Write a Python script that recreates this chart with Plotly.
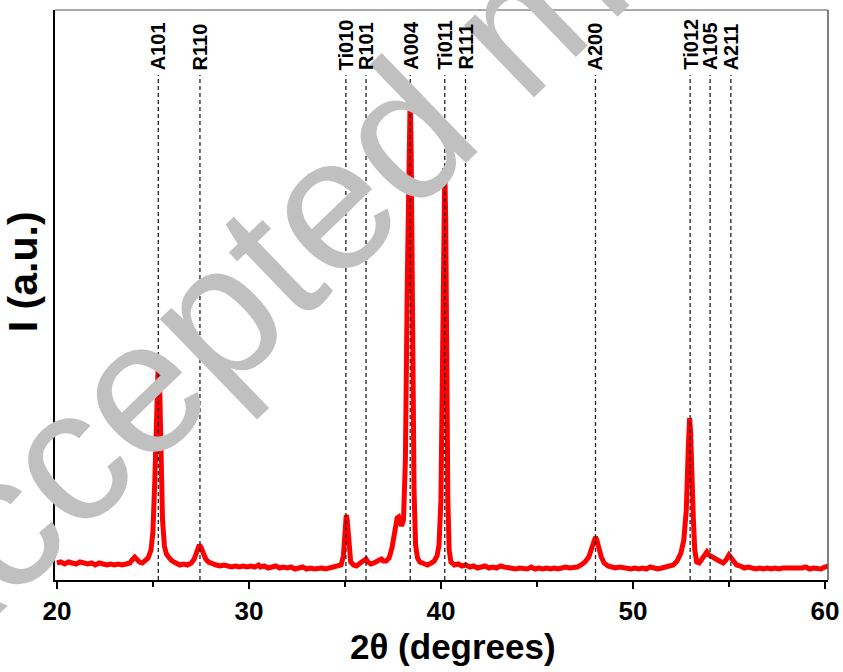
import plotly.graph_objects as go

# ---- data (2θ in degrees, intensity in a.u.) ----
two_theta = [
    20.0, 20.2, 20.4, 20.6, 20.8, 21.0, 21.2, 21.4, 21.6, 21.8,
    22.0, 22.2, 22.4, 22.6, 22.8, 23.0, 23.2, 23.4, 23.6, 23.8,
    23.95, 24.05, 24.15, 24.3, 24.45, 24.6, 24.75, 24.9, 25.0, 25.1,
    25.2, 25.28, 25.35, 25.42, 25.5, 25.6, 25.7, 25.85, 26.0, 26.2,
    26.4, 26.6, 26.8, 27.0, 27.15, 27.3, 27.42, 27.5, 27.6, 27.75,
    27.9, 28.1, 28.3, 28.5, 28.7, 28.9, 29.1, 29.3, 29.5, 29.7,
    29.9, 30.1, 30.3, 30.5, 30.6, 30.8, 31.0, 31.2, 31.4, 31.6,
    31.8, 32.0, 32.2, 32.4, 32.6, 32.8, 33.0, 33.2, 33.4, 33.6,
    33.8, 34.0, 34.2, 34.4, 34.6, 34.8, 34.92, 35.0, 35.07, 35.12,
    35.2, 35.3, 35.45, 35.6, 35.8, 36.0, 36.1, 36.2, 36.35, 36.5,
    36.65, 36.8, 36.9, 37.0, 37.15, 37.3, 37.45, 37.6, 37.72, 37.8,
    37.88, 37.95, 38.05, 38.15, 38.25, 38.35, 38.4, 38.45, 38.52, 38.6,
    38.68, 38.78, 38.9, 39.1, 39.3, 39.5, 39.65, 39.8, 39.9, 40.0,
    40.08, 40.15, 40.2, 40.25, 40.3, 40.36, 40.43, 40.52, 40.7, 40.9,
    41.1, 41.3, 41.5, 41.7, 41.9, 42.1, 42.3, 42.5, 42.7, 42.9,
    43.1, 43.3, 43.5, 43.7, 43.9, 44.1, 44.3, 44.5, 44.7, 44.9,
    45.1, 45.3, 45.5, 45.7, 45.9, 46.1, 46.3, 46.5, 46.7, 46.9,
    47.1, 47.3, 47.5, 47.7, 47.85, 47.97, 48.05, 48.12, 48.22, 48.35,
    48.5, 48.7, 48.9, 49.1, 49.3, 49.5, 49.7, 49.9, 50.1, 50.3,
    50.5, 50.7, 50.9, 51.1, 51.3, 51.5, 51.7, 51.9, 52.1, 52.3,
    52.5, 52.65, 52.78, 52.88, 52.95, 53.0, 53.05, 53.1, 53.15, 53.22,
    53.32, 53.45, 53.58, 53.72, 53.85, 53.95, 54.1, 54.3, 54.5, 54.7,
    54.85, 55.0, 55.1, 55.25, 55.4, 55.6, 55.8, 56.0, 56.2, 56.4,
    56.6, 56.8, 57.0, 57.2, 57.4, 57.6, 57.8, 58.0, 58.2, 58.4,
    58.6, 58.8, 59.0, 59.2, 59.4, 59.6, 59.8, 60.0, 60.15,
]
intensity = [
    17, 18, 16, 18, 17, 16, 18, 17, 16, 17,
    15, 17, 16, 15, 16, 15, 16, 15, 16, 17,
    21, 23, 21, 18, 17, 19, 22, 30, 48, 100,
    180, 220, 195, 120, 60, 34, 26, 22, 19, 17,
    15, 16, 15, 17, 21, 29, 35, 33, 27, 21,
    18, 16, 15, 14, 15, 14, 13, 14, 13, 14,
    13, 14, 13, 15, 13, 14, 12, 13, 14, 12,
    13, 12, 13, 11, 12, 13, 11, 12, 11, 12,
    12, 11, 12, 12, 13, 15, 24, 50, 65, 60,
    35, 18, 15, 14, 17, 19, 21, 18, 16, 17,
    18, 20, 21, 19, 19, 22, 32, 48, 62, 63,
    56, 54, 60, 120, 300, 470, 485, 430, 250, 90,
    35, 22, 18, 16, 15, 17, 19, 24, 35, 80,
    200, 380, 412, 360, 200, 80, 30, 18, 15, 16,
    14, 15, 13, 14, 12, 13, 14, 12, 13, 12,
    14, 13, 12, 12, 11, 12, 12, 11, 13, 11,
    12, 11, 12, 11, 12, 11, 12, 13, 12, 12,
    13, 15, 18, 23, 32, 41, 43, 40, 31, 23,
    17, 14, 13, 12, 13, 12, 12, 11, 12, 11,
    12, 11, 13, 12, 11, 12, 13, 13, 15, 19,
    27, 40, 70, 130, 162, 150, 110, 84, 60, 30,
    18, 17, 21, 26, 28, 25, 23, 21, 19, 17,
    20, 25, 22, 18, 15, 14, 12, 13, 12, 11,
    12, 11, 12, 11, 12, 11, 12, 12, 11, 12,
    11, 12, 13, 11, 12, 12, 11, 13, 14,
]

peak_labels = ["A101", "R110", "Ti010", "R101", "A004", "Ti011",
               "R111", "A200", "Ti012", "A105", "A211"]
peak_positions = [25.28, 27.45, 35.05, 36.1, 38.4, 40.2,
                  41.28, 48.05, 52.98, 54.02, 55.1]

x_ticks = [20, 30, 40, 50, 60]
x_minor_ticks = [25, 35, 45, 55]

FONT = "Liberation Sans, Arial, sans-serif"

fig = go.Figure()

fig.add_trace(go.Scatter(
    x=two_theta, y=intensity, mode="lines",
    line=dict(color="#ff0000", width=5),
    showlegend=False, hoverinfo="skip",
))

# watermark (added first so the other texts sit above it)
fig.add_annotation(text="Accepted manuscript", xref="paper", yref="paper",
                   x=0.587, y=0.965, showarrow=False, textangle=-44,
                   xanchor="center", yanchor="middle",
                   font=dict(family=FONT, size=190, color="#c0c0c0"))

Y_LINE_TOP = 505
for pos, lab in zip(peak_positions, peak_labels):
    fig.add_shape(type="line", xref="x", yref="y",
                  x0=pos, x1=pos, y0=0, y1=Y_LINE_TOP,
                  line=dict(color="#222222", width=1.3, dash="4px,3px"),
                  layer="above")
    fig.add_annotation(x=pos, y=Y_LINE_TOP + 3, xref="x", yref="y",
                       text="<b>%s</b>" % lab, showarrow=False,
                       textangle=-90, xanchor="center", yanchor="bottom",
                       font=dict(family=FONT, size=20, color="black"))

# frame lines (top and right)
fig.add_shape(type="line", xref="paper", yref="paper", x0=0, x1=1, y0=1, y1=1,
              line=dict(color="#555555", width=1))
fig.add_shape(type="line", xref="paper", yref="paper", x0=1, x1=1, y0=0, y1=1,
              line=dict(color="#555555", width=1.5))

# axis titles
fig.add_annotation(text="<b>2θ (degrees)</b>", xref="paper", yref="paper",
                   x=0.515, y=-0.117, showarrow=False,
                   xanchor="center", yanchor="middle",
                   font=dict(family=FONT, size=35, color="black"))
fig.add_annotation(text="<b>I (a.u.)</b>", xref="paper", yref="paper",
                   x=-0.042, y=0.541, showarrow=False, textangle=-90,
                   xanchor="center", yanchor="middle",
                   font=dict(family=FONT, size=41, color="black"))

fig.update_layout(
    width=843, height=672,
    margin=dict(l=55, r=15, t=10, b=92, autoexpand=False),
    plot_bgcolor="white", paper_bgcolor="white",
    font=dict(family=FONT, color="black"),
    xaxis=dict(
        range=[19.9, 60.16], tickmode="array", tickvals=x_ticks,
        ticktext=["<b>%d</b>" % t for t in x_ticks],
        ticks="outside", ticklen=7, tickwidth=2, tickcolor="black",
        minor=dict(tickvals=x_minor_ticks, ticks="outside", ticklen=5,
                   tickwidth=2, tickcolor="black"),
        showline=True, linecolor="black", linewidth=2,
        showgrid=False, zeroline=False, automargin=False,
        tickfont=dict(family=FONT, size=26, color="black"),
    ),
    yaxis=dict(
        range=[0, 570], showticklabels=False, ticks="",
        showline=True, linecolor="black", linewidth=1.5,
        showgrid=False, zeroline=False, automargin=False,
    ),
)

fig.write_html("out.html")
